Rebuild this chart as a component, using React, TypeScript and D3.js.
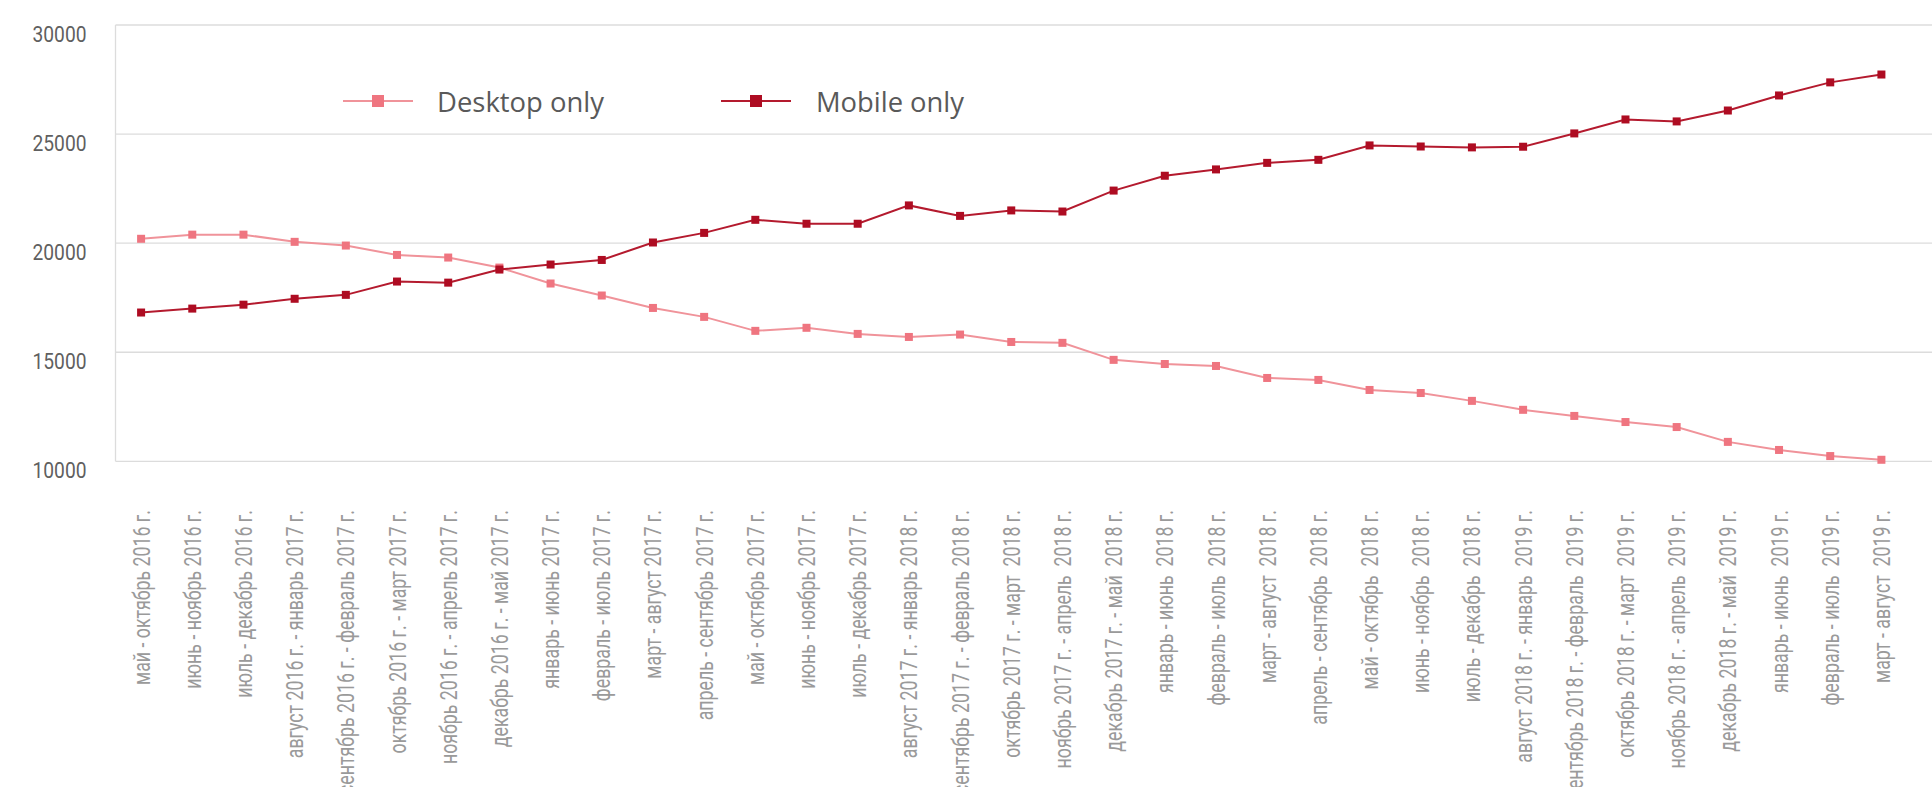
import React from "react";
import * as d3 from "d3";

const categories: string[] = [
  "май - октябрь 2016 г.",
  "июнь - ноябрь 2016 г.",
  "июль - декабрь 2016 г.",
  "август 2016 г. - январь 2017 г.",
  "сентябрь 2016 г. - февраль 2017 г.",
  "октябрь 2016 г. - март 2017 г.",
  "ноябрь 2016 г. - апрель 2017 г.",
  "декабрь 2016 г. - май 2017 г.",
  "январь - июнь 2017 г.",
  "февраль - июль 2017 г.",
  "март - август 2017 г.",
  "апрель - сентябрь 2017 г.",
  "май - октябрь 2017 г.",
  "июнь - ноябрь 2017 г.",
  "июль - декабрь 2017 г.",
  "август 2017 г. - январь 2018 г.",
  "сентябрь 2017 г. - февраль 2018 г.",
  "октябрь 2017 г. - март  2018 г.",
  "ноябрь 2017 г. - апрель  2018 г.",
  "декабрь 2017 г. - май  2018 г.",
  "январь - июнь  2018 г.",
  "февраль - июль  2018 г.",
  "март - август  2018 г.",
  "апрель - сентябрь  2018 г.",
  "май - октябрь  2018 г.",
  "июнь - ноябрь  2018 г.",
  "июль - декабрь  2018 г.",
  "август 2018 г. - январь  2019 г.",
  "сентябрь 2018 г. - февраль  2019 г.",
  "октябрь 2018 г. - март  2019 г.",
  "ноябрь 2018 г. - апрель  2019 г.",
  "декабрь 2018 г. - май  2019 г.",
  "январь - июнь  2019 г.",
  "февраль - июль  2019 г.",
  "март - август  2019 г.",
];

const desktopOnly: number[] = [
  20200, 20390, 20390, 20060, 19890, 19460, 19340, 18880, 18150, 17600,
  17030, 16620, 15980, 16120, 15840, 15700, 15810, 15470, 15430, 14650,
  14460, 14370, 13820, 13730, 13270, 13130, 12770, 12360, 12080, 11800,
  11570, 10890, 10520, 10240, 10070,
];

const mobileOnly: number[] = [
  16820, 17000, 17180, 17450, 17630, 18240, 18190, 18790, 19020, 19230,
  20030, 20470, 21070, 20890, 20890, 21730, 21250, 21500, 21450, 22410,
  23090, 23380, 23680, 23820, 24480, 24430, 24390, 24420, 25030, 25670,
  25580, 26080, 26770, 27370, 27730,
];

const yTicks: number[] = [10000, 15000, 20000, 25000, 30000];

const seriesNames: string[] = ["Desktop only", "Mobile only"];

const W = 1932;
const H = 787;
const left = 115.5;
const right = 1907;
const top = 25;
const bottom = 461.3;

const DESKTOP_COLOR = "#ef7580";
const DESKTOP_LINE = "#f0939a";
const MOBILE_COLOR = "#ae0c22";
const MOBILE_LINE = "#b41a2e";

export default function App() {
  const x = d3.scaleBand<string>().domain(categories).range([left, right]);
  const y = d3.scaleLinear().domain([10000, 30000]).range([bottom, top]);
  const cx = (c: string) => (x(c) as number) + x.bandwidth() / 2;

  const line = d3
    .line<number>()
    .x((_, i) => cx(categories[i]))
    .y((d) => y(d));

  const series = [
    { name: seriesNames[0], values: desktopOnly, color: DESKTOP_COLOR, lineColor: DESKTOP_LINE },
    { name: seriesNames[1], values: mobileOnly, color: MOBILE_COLOR, lineColor: MOBILE_LINE },
  ];

  const legendPos = [
    { lx1: 343, lx2: 413, mx: 378, tx: 437, tl: 167 },
    { lx1: 721, lx2: 791, mx: 756, tx: 816, tl: 148 },
  ];
  const legendY = 101;

  return (
    <svg
      width={W}
      height={H}
      style={{ position: "absolute", left: 0, top: 0, background: "#fff" }}
    >
      {/* gridlines */}
      {yTicks.map((t) => (
        <line
          key={t}
          x1={left}
          x2={W}
          y1={y(t)}
          y2={y(t)}
          stroke="#dcdcdc"
          strokeWidth={1.3}
        />
      ))}
      <line x1={left} x2={left} y1={top} y2={bottom} stroke="#dcdcdc" strokeWidth={1.3} />

      {/* y labels */}
      {yTicks.map((t) => (
        <text
          key={"yl" + t}
          x={86.5}
          y={y(t) + 16.5}
          textAnchor="end"
          fontFamily="Roboto"
          fontSize={22}
          fill="#5f5f5f"
          textLength={54}
          lengthAdjust="spacingAndGlyphs"
        >
          {d3.format("d")(t)}
        </text>
      ))}

      {/* x labels */}
      {categories.map((c) => (
        <text
          key={"xl" + c}
          transform={`translate(${cx(c)},510) rotate(-90) scale(0.74,1)`}
          textAnchor="end"
          dominantBaseline="central"
          fontFamily="Roboto"
          fontSize={24}
          fill="#9a9a9a"
          style={{ whiteSpace: "pre" }}
        >
          {c}
        </text>
      ))}

      {/* series */}
      {series.map((s) => (
        <g key={s.name}>
          <path d={line(s.values) || ""} fill="none" stroke={s.lineColor} strokeWidth={2} />
          {s.values.map((v, i) => (
            <rect
              key={i}
              x={cx(categories[i]) - 4}
              y={y(v) - 4}
              width={8}
              height={8}
              fill={s.color}
            />
          ))}
        </g>
      ))}

      {/* legend */}
      {series.map((s, i) => {
        const p = legendPos[i];
        return (
          <g key={"lg" + s.name}>
            <line x1={p.lx1} x2={p.lx2} y1={legendY} y2={legendY} stroke={s.lineColor} strokeWidth={2} />
            <rect x={p.mx - 6} y={legendY - 6} width={12} height={12} fill={s.color} />
            <text
              x={p.tx}
              y={legendY}
              dominantBaseline="central"
              fontFamily="Open Sans"
              fontSize={27}
              fill="#595959"
              textLength={p.tl}
              lengthAdjust="spacingAndGlyphs"
            >
              {s.name}
            </text>
          </g>
        );
      })}
    </svg>
  );
}
